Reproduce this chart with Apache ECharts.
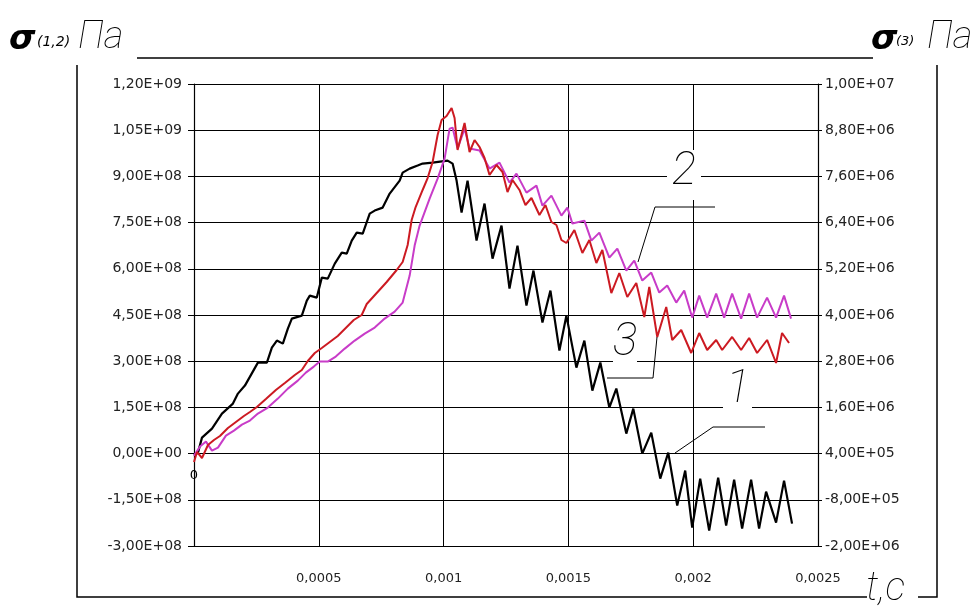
<!DOCTYPE html>
<html>
<head>
<meta charset="utf-8">
<script src="https://cdn.jsdelivr.net/npm/echarts@6/dist/echarts.min.js"></script>
<style>html,body{margin:0;padding:0;background:#fff}#c{width:980px;height:610px}</style>
</head>
<body>
<div id="c"></div>
<script>
// time in ms (x 1e-3 s)
const T_UNIT = 1e-3;
// curves 1,2 in 1e8 Pa (left axis), curve 3 in 1e6 Pa (right axis)
const S12_UNIT = 1e8;
const S3_UNIT = 1e6;

const t1 = [0,0.016,0.032,0.072,0.112,0.156,0.176,0.204,0.256,0.292,0.312,0.332,0.356,0.376,0.392,0.432,0.452,0.464,0.492,0.512,0.536,0.564,0.592,0.612,0.632,0.652,0.676,0.704,0.724,0.756,0.784,0.824,0.836,0.864,0.896,0.916,0.956,1.016,1.036,1.052,1.072,1.096,1.132,1.164,1.196,1.232,1.264,1.296,1.332,1.360,1.396,1.428,1.464,1.492,1.532,1.564,1.596,1.628,1.664,1.692,1.732,1.760,1.796,1.832,1.868,1.900,1.936,1.968,1.996,2.028,2.064,2.100,2.132,2.164,2.196,2.232,2.264,2.292,2.332,2.364,2.396];
const s1 = [-0.065,0.032,0.519,0.812,1.299,1.623,1.948,2.208,2.955,2.955,3.442,3.669,3.571,4.059,4.383,4.481,4.968,5.130,5.065,5.714,5.682,6.169,6.526,6.494,6.916,7.175,7.143,7.792,7.890,7.987,8.442,8.864,9.123,9.253,9.351,9.416,9.448,9.513,9.416,8.864,7.825,8.864,6.916,8.117,6.331,7.403,5.357,6.753,4.805,5.942,4.253,5.292,3.344,4.481,2.792,3.669,2.045,2.955,1.494,2.110,0.649,1.461,0,0.682,-0.812,0.032,-1.688,-0.552,-2.403,-0.812,-2.500,-0.779,-2.338,-0.844,-2.435,-0.844,-2.435,-1.234,-2.240,-0.877,-2.273];

const t2 = [0,0.024,0.048,0.072,0.096,0.128,0.160,0.192,0.224,0.256,0.296,0.336,0.376,0.416,0.448,0.480,0.504,0.536,0.568,0.604,0.644,0.684,0.724,0.764,0.804,0.836,0.864,0.884,0.904,0.944,0.976,1.004,1.024,1.036,1.056,1.084,1.104,1.144,1.184,1.224,1.264,1.292,1.332,1.372,1.396,1.432,1.472,1.496,1.516,1.564,1.592,1.624,1.664,1.696,1.732,1.764,1.796,1.832,1.864,1.896,1.932,1.964,1.996,2.024,2.056,2.092,2.124,2.156,2.192,2.224,2.256,2.296,2.332,2.364,2.392];
const s2 = [-0.065,0.227,0.390,0.097,0.195,0.584,0.747,0.942,1.071,1.299,1.494,1.786,2.110,2.370,2.630,2.825,2.987,2.987,3.149,3.409,3.669,3.896,4.091,4.383,4.610,4.903,5.779,6.753,7.403,8.279,8.929,9.578,10.552,10.585,9.903,10.552,9.903,9.838,9.253,9.448,8.799,9.091,8.474,8.701,8.052,8.377,7.727,7.987,7.468,7.565,6.916,7.175,6.364,6.656,5.942,6.266,5.617,5.877,5.227,5.455,4.903,5.292,4.416,5.130,4.416,5.195,4.416,5.195,4.383,5.195,4.416,5.065,4.416,5.130,4.383];

const t3 = [0,0.012,0.032,0.056,0.080,0.104,0.136,0.168,0.200,0.224,0.252,0.288,0.328,0.364,0.404,0.432,0.456,0.484,0.512,0.544,0.576,0.608,0.640,0.672,0.692,0.732,0.772,0.812,0.836,0.856,0.872,0.888,0.916,0.936,0.956,0.976,0.992,1.012,1.032,1.044,1.056,1.084,1.104,1.124,1.144,1.164,1.184,1.212,1.236,1.256,1.276,1.304,1.328,1.352,1.384,1.408,1.432,1.452,1.472,1.492,1.524,1.556,1.584,1.612,1.636,1.672,1.704,1.736,1.772,1.804,1.824,1.856,1.892,1.916,1.952,1.992,2.024,2.056,2.092,2.116,2.156,2.192,2.224,2.256,2.296,2.332,2.356,2.384];
const s3 = [0.182,0.442,0.286,0.623,0.753,0.857,1.065,1.221,1.377,1.481,1.610,1.818,2.052,2.234,2.442,2.571,2.805,3.013,3.143,3.299,3.455,3.662,3.870,4.000,4.286,4.571,4.857,5.169,5.377,5.818,6.468,6.805,7.247,7.558,7.974,8.675,9.065,9.169,9.377,9.117,8.286,8.987,8.234,8.545,8.364,8.078,7.636,7.896,7.714,7.195,7.506,7.247,6.857,7.039,6.597,6.857,6.416,6.338,5.948,5.870,6.208,5.610,5.948,5.351,5.688,4.571,5.091,4.468,4.831,3.948,4.727,3.429,4.208,3.351,3.610,3.013,3.532,3.091,3.351,3.091,3.429,3.091,3.403,3.013,3.351,2.753,3.532,3.273];

const xTickValues = [0, 0.0005, 0.001, 0.0015, 0.002, 0.0025];
const xTickLabels = ['0', '0,0005', '0,001', '0,0015', '0,002', '0,0025'];
const leftTicks = [-3e8, -1.5e8, 0, 1.5e8, 3e8, 4.5e8, 6e8, 7.5e8, 9e8, 1.05e9, 1.2e9];
const rightTicks = [-2e6, -8e5, 4e5, 1.6e6, 2.8e6, 4e6, 5.2e6, 6.4e6, 7.6e6, 8.8e6, 1e7];

function fmtE(v) {
  if (Math.abs(v) < 1e-6) return '0,00E+00';
  const s = v.toExponential(2);
  const parts = s.split('e');
  const sign = parts[1][0] === '-' ? '-' : '+';
  let d = parts[1].replace(/[+-]/, '');
  if (d.length < 2) d = '0' + d;
  return parts[0].replace('.', ',') + 'E' + sign + d;
}
function pairs(t, s, u) { return t.map((x, i) => [x * T_UNIT, s[i] * u]); }
function xLabel(v) {
  for (let i = 0; i < xTickValues.length; i++) if (Math.abs(v - xTickValues[i]) < 1e-9) return xTickLabels[i];
  return '';
}

const chart = echarts.init(document.getElementById('c'), null, { renderer: 'canvas' });
const labelFont = { fontFamily: 'DejaVu Sans', fontSize: 14, color: '#222' };
const handFont = 'italic 100 46px Roboto';

const G = [];
function line(pts, w) {
  G.push({ type: 'polyline', z: 120, shape: { points: pts }, style: { stroke: '#000', lineWidth: w || 1.3, fill: null } });
}
function gap(x, y, w, h) {
  G.push({ type: 'rect', z: 1, shape: { x: x, y: y, width: w, height: h }, style: { fill: '#fff' } });
}
function txt(text, x, y, font, align, z) {
  G.push({ type: 'text', z: z || 110, style: { text: text, x: x, y: y, font: font, fill: '#000', align: align || 'left', verticalAlign: 'middle' } });
}
// frame
line([[137, 58], [873, 58]], 1.5);
line([[77, 65], [77, 597], [867, 597]], 1.5);
line([[918, 597], [937, 597], [937, 65]], 1.5);
// axis titles
txt('σ', 9, 40, 'italic bold 34px "DejaVu Sans"');
txt('(1,2)', 37, 42, 'italic 14px "DejaVu Sans"');
txt('Па', 78, 38, 'italic 100 38px Roboto');
txt('σ', 871, 40, 'italic bold 34px "DejaVu Sans"');
txt('(3)', 896, 42, 'italic 13px "DejaVu Sans"');
txt('Па', 927, 38, 'italic 100 38px Roboto');
txt('t,c', 866, 590, 'italic 100 40px Roboto');
txt('0', 194, 476, '13px "DejaVu Sans"', 'center');
// gaps in the grid behind the curve numbers
gap(667, 150, 34, 50);
gap(613, 328, 24, 36);
gap(723, 372, 29, 38);
// curve numbers
txt('2', 684, 172, handFont, 'center', 2);
txt('3', 625, 343, handFont, 'center', 2);
txt('1', 738, 390, handFont, 'center', 2);
// leaders
line([[638, 262], [655, 207], [715, 207]], 1);
line([[657, 337], [653, 378], [607, 378]], 1);
line([[675, 453], [713, 427], [765, 427]], 1);

chart.setOption({
  animation: false,
  backgroundColor: '#fff',
  grid: { left: 194, right: 162, top: 84, bottom: 64 },
  xAxis: {
    type: 'value', min: 0, max: 0.0025, interval: 0.0005,
    axisLine: { show: false }, axisTick: { show: false },
    axisLabel: Object.assign({ margin: 26, showMinLabel: false, formatter: xLabel }, labelFont, { fontSize: 13 }),
    splitLine: { show: true, lineStyle: { color: '#000', width: 1 } }
  },
  yAxis: [
    {
      type: 'value', min: -3e8, max: 1.2e9, interval: 1.5e8,
      axisLine: { show: true, lineStyle: { color: '#000', width: 1.2 } },
      axisTick: { show: true, length: 6, lineStyle: { color: '#000' } },
      axisLabel: Object.assign({ margin: 12, formatter: fmtE }, labelFont),
      splitLine: { show: true, lineStyle: { color: '#000', width: 1 } }
    },
    {
      type: 'value', min: -2e6, max: 1e7, position: 'right',
      axisLine: { show: true, lineStyle: { color: '#000', width: 1.2 } },
      axisTick: { show: true, length: 4, customValues: rightTicks, lineStyle: { color: '#000' } },
      axisLabel: Object.assign({ margin: 7, customValues: rightTicks, formatter: fmtE }, labelFont),
      splitLine: { show: false }
    }
  ],
  series: [
    { type: 'line', yAxisIndex: 0, data: pairs(t1, s1, S12_UNIT), symbol: 'none', lineStyle: { color: '#000', width: 2.2 }, z: 3 },
    { type: 'line', yAxisIndex: 0, data: pairs(t2, s2, S12_UNIT), symbol: 'none', lineStyle: { color: '#c83cc8', width: 2 }, z: 4 },
    { type: 'line', yAxisIndex: 1, data: pairs(t3, s3, S3_UNIT), symbol: 'none', lineStyle: { color: '#cc1a22', width: 2 }, z: 5 }
  ],
  graphic: G
});
</script>
</body>
</html>
